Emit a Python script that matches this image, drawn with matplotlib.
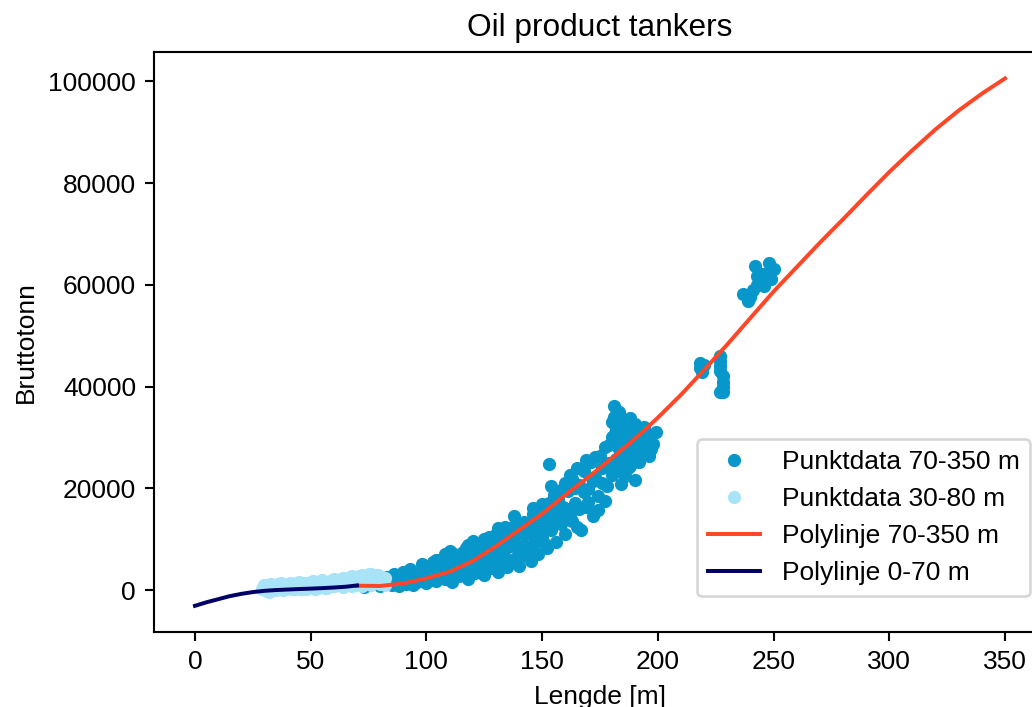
import matplotlib
matplotlib.use("Agg")
import matplotlib.pyplot as plt

plt.rcParams['font.family'] = ['Liberation Sans', 'DejaVu Sans']

# Punktdata 70-350 m (length, gross tonnage)
len_big = [72, 74, 76, 78, 80, 82, 83, 85, 86, 87, 88, 89, 90, 91, 92, 93, 94, 95, 96, 97, 98, 99, 100,
           101, 102, 103, 104, 105, 106, 107, 108, 109, 110, 110, 111, 112, 113, 114, 115, 116, 117, 118, 119, 120, 120,
           121, 122, 123, 124, 125, 126, 127, 128, 129, 130, 130, 131, 132, 133, 134, 135, 136, 137, 138, 138, 139, 140,
           141, 142, 143, 144, 145, 146, 146, 147, 148, 149, 150, 151, 152, 153, 153, 154, 154, 155, 156, 157, 158, 159, 160,
           161, 162, 163, 164, 165, 166, 167, 168, 169, 170, 171, 172, 173, 174, 175, 176, 177, 178, 179, 180,
           181, 181, 182, 182, 183, 183, 183, 184, 184, 185, 185, 186, 187, 187, 188, 189, 190, 190, 191, 192, 193, 194,
           195, 196, 198, 199,
           218, 218, 219, 220, 227, 227, 227, 227, 228, 228, 228, 228, 227,
           237, 239, 240, 241, 242, 243, 243, 244, 245, 246, 247, 248, 249, 250,
           71, 73, 75, 77, 79, 81, 84, 86, 88, 90, 92, 94, 96, 98, 99, 100,
           101, 102, 103, 104, 105, 106, 107, 108, 109, 110, 111, 112, 113, 114, 115, 116, 117, 118, 119, 120,
           121, 122, 123, 124, 125, 126, 127, 128, 129, 130, 131, 132, 133, 134, 135, 136, 137, 138, 139, 140,
           141, 142, 143, 144, 145, 146, 147, 148, 149, 150, 151, 152, 153, 155, 156, 157, 158, 159, 160,
           161, 162, 163, 164, 165, 166, 168, 169, 170, 172, 173, 174, 176, 177, 178, 179, 180,
           180, 181, 181, 182, 182, 183, 183, 184, 184, 185, 185, 186, 186, 187, 188, 188, 189, 190, 191, 192,
           193, 194, 196, 197]
gt_big = [900, 1500, 1100, 2000, 800, 1400, 2600, 1000, 3200, 1800, 700, 2400, 3600, 1200, 2000, 4200, 900, 2800, 1600, 3400, 5200, 2200, 1300,
          3800, 2600, 5600, 1800, 4400, 3000, 6400, 2200, 5000, 7600, 3600, 1500, 4800, 6800, 2800, 5600, 3800, 8200, 2200, 6200, 4600, 9600,
          3400, 7200, 5400, 9000, 3000, 6400, 10400, 4400, 8000, 11000, 5800, 3600, 9400, 7000, 12400, 4600, 8600, 10800, 14600, 6200, 12000, 4800,
          9600, 13400, 7400, 11200, 5800, 14900, 9000, 12800, 7000, 15800, 10400, 13600, 8200, 24700, 17200, 20500, 11800, 15000, 9400, 18000, 13000, 16400, 11000,
          19400, 14800, 21800, 17200, 12400, 20600, 11900, 23400, 16400, 19800, 25200, 14600, 22200, 18400, 26400, 21000, 17600, 24800, 28600, 22600,
          36200, 30400, 33600, 25800, 27800, 31800, 23400, 20800, 29200, 26200, 33000, 22400, 30600, 27400, 24400, 31400, 28200, 21600, 25600, 30000, 27000, 32000,
          29400, 26400, 28700, 31000,
          44700, 43600, 42800, 44200, 46000, 45000, 44000, 43000, 42000, 41000, 40000, 39000, 38900,
          58200, 56900, 57600, 59000, 63800, 61800, 59900, 60600, 62200, 59800, 62400, 64400, 61200, 63200,
          1200, 600, 2200, 1300, 2800, 1900, 1500, 2200, 3000, 2000, 3000, 3600, 2400, 4000, 3000, 4400,
          2000, 4600, 3400, 6000, 2600, 5200, 3800, 7000, 3200, 5600, 4400, 7000, 3600, 6000, 4200, 7400, 5000, 8800, 4000, 7200,
          5800, 4200, 8400, 6400, 10000, 4800, 7600, 9600, 5200, 8600, 12200, 6200, 10000, 8000, 11400, 5600, 9400, 12600, 8200, 10600,
          6600, 11000, 13000, 8400, 12000, 16200, 10000, 14000, 11600, 17000, 9200, 15200, 12600, 18600, 13800, 15600, 19600, 14200, 21000,
          16000, 22600, 13600, 20000, 24000, 16000, 19200, 25600, 17400, 21400, 26200, 15800, 24000, 28200, 20400, 25000, 30000,
          33000, 34000, 24400, 28600, 31600, 35000, 25000, 32800, 26800, 30000, 23400, 27600, 31800, 24000, 29400, 33800, 26000, 32600, 29600, 25200,
          30800, 28200, 30400, 27800]

# Punktdata 30-80 m
len_small = [29, 30, 31, 32, 33, 34, 35, 36, 37, 38, 39, 40, 41, 42, 43, 44, 45, 46, 47, 48, 49, 50, 51, 52, 53, 54, 55,
             56, 57, 58, 59, 60, 61, 62, 63, 64, 65, 66, 67, 68, 69, 70, 71, 72, 73, 74, 75, 76, 77, 78, 79, 80, 81, 82,
             30, 31, 32, 33, 34, 35, 36, 37, 38, 39, 40, 41, 42, 43, 44, 45, 46, 47, 48, 49, 50, 51, 52, 53, 54, 55,
             56, 57, 58, 59, 60, 61, 62, 63, 64, 65, 66, 67, 68, 69, 70, 71, 72, 73, 74, 75, 76, 77, 78, 79, 80, 81, 82]
gt_small = [200, 600, -200, 900, 300, 700, 100, 1100, 500, 800, 200, 1200, 600, 300, 1000, 1400, 500, 800, 1300, 300, 1000,
            1600, 600, 1200, 400, 1800, 900, 1400, 500, 1100, 2000, 700, 1500, 1000, 2200, 600, 1700, 1200, 2500, 800, 1900,
            1300, 2800, 700, 2200, 1600, 3100, 1000, 2400, 1800, 2900, 1200, 2000, 900,
            1000, 400, -300, 1100, 0, 800, 400, 1300, 0, 900, 500, 1300, 900, 200, 700, 1500, 200, 700, 1400, 500, 900,
            1700, 300, 1300, 900, 1900, 500, 1500, 700, 1300, 2200, 900, 1900, 1100, 2400, 900, 2100, 1500, 2700, 1000, 2400,
            1700, 3000, 1200, 2600, 2000, 3200, 1400, 2900, 1600, 2600, 1500, 2400]

# Polylinje 70-350 m
line_big_x = [70, 80, 90, 100, 110, 120, 130, 140, 150, 160, 170, 180, 190, 200, 210, 220, 230, 240,
              250, 260, 270, 280, 290, 300, 310, 320, 330, 340, 350]
line_big_y = [850, 800, 1300, 2300, 3600, 5700, 8600, 11800, 15000, 18700, 22200, 25900, 29700, 33900,
              38400, 43300, 48300, 53500, 58700, 63500, 68300, 72900, 77600, 82200, 86500, 90600, 94300, 97600, 100600]

# Polylinje 0-70 m
line_small_x = [0, 5, 10, 15, 20, 25, 30, 35, 40, 45, 50, 55, 60, 65, 70]
line_small_y = [-3100, -2400, -1800, -1200, -750, -400, -150, 0, 100, 200, 280, 380, 500, 650, 900]

fig = plt.figure(figsize=(1032 / 190, 707 / 190), dpi=190)
ax = fig.add_axes([0.1497, 0.1061, 0.8634, 0.8204])

ax.plot(len_big, gt_big, 'o', color='#0797CA', markersize=4, label='Punktdata 70-350 m')
ax.plot(len_small, gt_small, 'o', color='#A8E3F8', markersize=4, label='Punktdata 30-80 m')
ax.plot(line_big_x, line_big_y, '-', color='#FF4626', linewidth=1.5, label='Polylinje 70-350 m')
ax.plot(line_small_x, line_small_y, '-', color='#000066', linewidth=1.5, label='Polylinje 0-70 m')

ax.set_xlim(-17.5, 367.5)
ax.set_ylim(-8245, 105800)
ax.set_xticks(range(0, 351, 50))
ax.set_yticks(range(0, 100001, 20000))
ax.set_title('Oil product tankers', fontsize=12)
ax.set_xlabel('Lengde [m]')
ax.set_ylabel('Bruttotonn')
ax.legend(loc='lower right', bbox_to_anchor=(0.9826, 0.062), borderaxespad=0)

fig.savefig('out.png', dpi=190)
